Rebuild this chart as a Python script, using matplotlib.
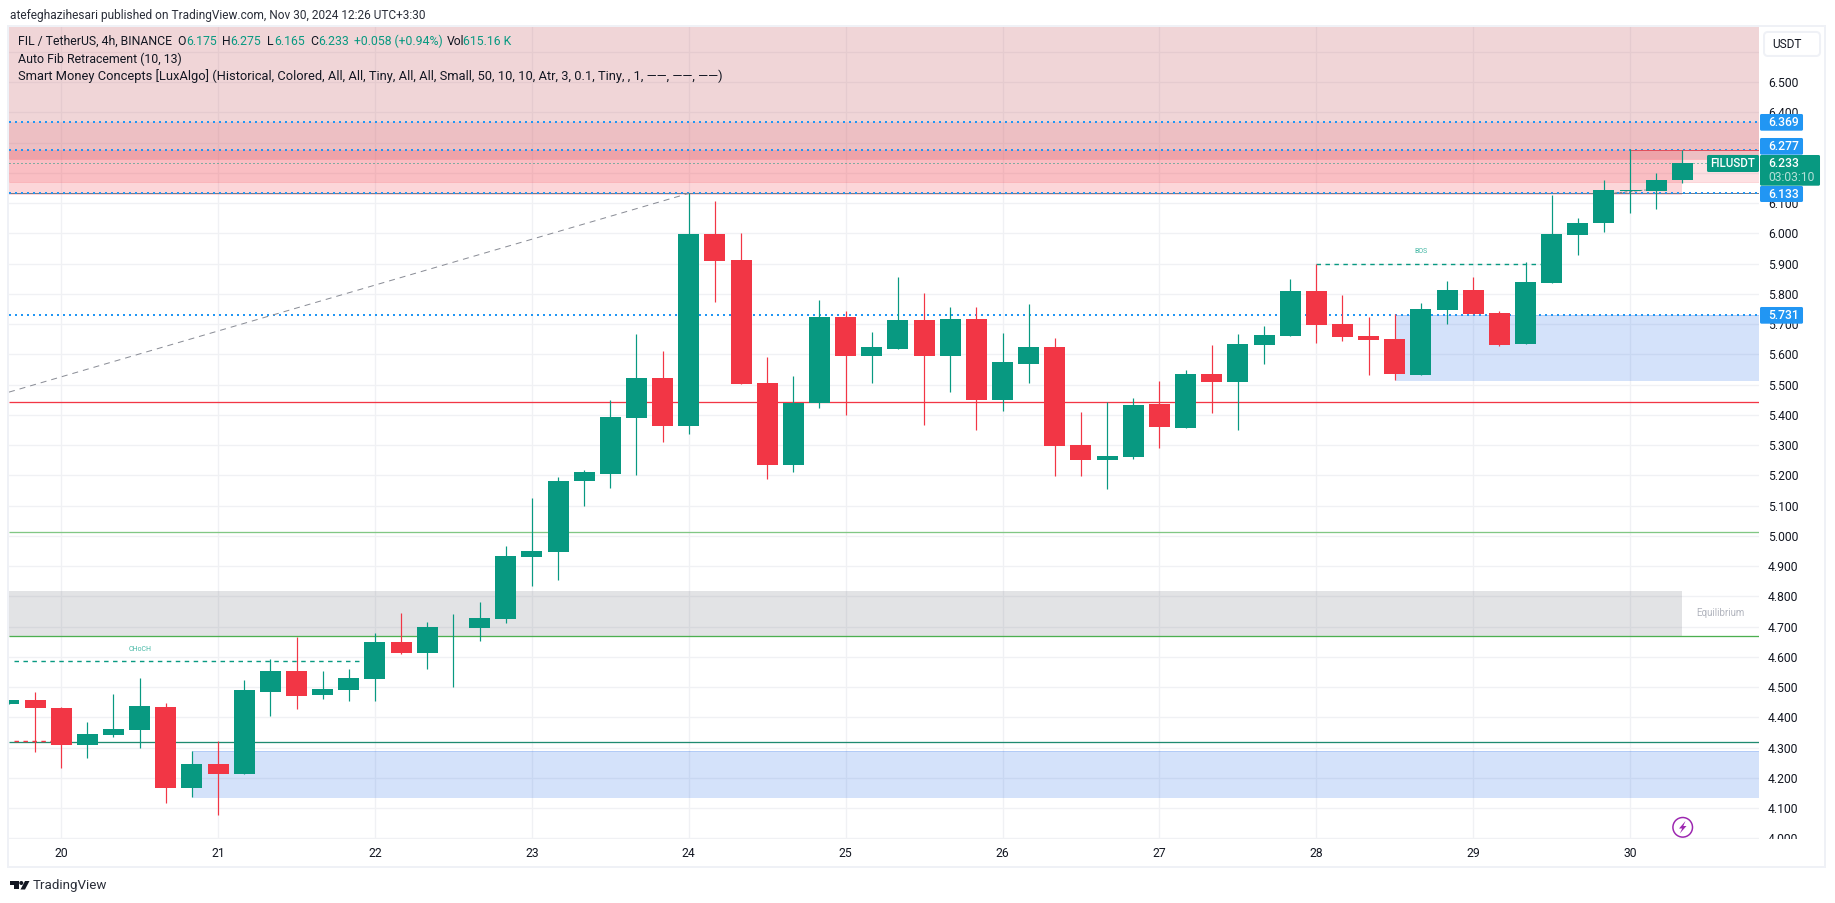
import matplotlib
matplotlib.use('Agg')
import matplotlib.pyplot as plt
from matplotlib.patches import Rectangle, FancyBboxPatch, Circle, Polygon

plt.rcParams['font.family'] = ['Roboto', 'DejaVu Sans']

# Velas de 4h, la primera queda cortada por el borde izquierdo
bar_index = list(range(-2, 63))
opens = [4.444, 4.457, 4.431, 4.308, 4.341, 4.358, 4.434, 4.166, 4.246, 4.213, 4.484, 4.553, 4.474,
         4.490, 4.527, 4.649, 4.613, 4.697, 4.695, 4.725, 4.930, 4.946, 5.181, 5.204, 5.389, 5.522,
         5.363, 5.998, 5.912, 5.505, 5.234, 5.439, 5.723, 5.594, 5.617, 5.713, 5.594, 5.717, 5.449,
         5.568, 5.624, 5.300, 5.251, 5.261, 5.435, 5.356, 5.535, 5.508, 5.630, 5.660, 5.809, 5.700,
         5.660, 5.650, 5.531, 5.746, 5.812, 5.736, 5.633, 5.836, 5.994, 6.034, 6.141, 6.140, 6.175]
highs = [4.458, 4.484, 4.433, 4.384, 4.477, 4.530, 4.447, 4.289, 4.321, 4.523, 4.593, 4.667, 4.553,
         4.560, 4.679, 4.745, 4.715, 4.741, 4.781, 4.966, 5.125, 5.194, 5.218, 5.449, 5.667, 5.611,
         6.132, 6.107, 6.001, 5.591, 5.528, 5.780, 5.743, 5.674, 5.856, 5.803, 5.756, 5.756, 5.670,
         5.766, 5.654, 5.409, 5.442, 5.455, 5.511, 5.548, 5.630, 5.667, 5.693, 5.849, 5.898, 5.796,
         5.723, 5.733, 5.769, 5.842, 5.855, 5.743, 5.905, 6.127, 6.051, 6.176, 6.280, 6.199, 6.275]
lows = [4.444, 4.285, 4.232, 4.265, 4.335, 4.299, 4.117, 4.137, 4.077, 4.213, 4.404, 4.427, 4.461,
        4.454, 4.454, 4.609, 4.560, 4.500, 4.652, 4.712, 4.834, 4.854, 5.098, 5.158, 5.201, 5.310,
        5.337, 5.773, 5.502, 5.188, 5.211, 5.422, 5.399, 5.505, 5.617, 5.366, 5.475, 5.350, 5.413,
        5.505, 5.198, 5.198, 5.155, 5.254, 5.290, 5.356, 5.406, 5.349, 5.568, 5.660, 5.637, 5.644,
        5.531, 5.515, 5.531, 5.700, 5.733, 5.627, 5.633, 5.836, 5.928, 6.004, 6.067, 6.080, 6.165]
closes = [4.457, 4.431, 4.308, 4.345, 4.361, 4.437, 4.166, 4.246, 4.213, 4.490, 4.553, 4.470, 4.494,
          4.530, 4.649, 4.613, 4.698, 4.699, 4.728, 4.933, 4.950, 5.181, 5.211, 5.393, 5.522, 5.363,
          5.998, 5.908, 5.502, 5.234, 5.439, 5.723, 5.594, 5.624, 5.713, 5.594, 5.717, 5.449, 5.575,
          5.624, 5.297, 5.251, 5.264, 5.432, 5.360, 5.535, 5.508, 5.634, 5.664, 5.809, 5.697, 5.657,
          5.647, 5.535, 5.749, 5.812, 5.733, 5.630, 5.839, 5.998, 6.034, 6.143, 6.143, 6.176, 6.233]

# Ejes: 6.2, 6.3 y 6.6 tienen línea de grilla pero su texto queda tapado
price_ticks = [4.0, 4.1, 4.2, 4.3, 4.4, 4.5, 4.6, 4.7, 4.8, 4.9, 5.0, 5.1, 5.2, 5.3,
               5.4, 5.5, 5.6, 5.7, 5.8, 5.9, 6.0, 6.1, 6.2, 6.3, 6.4, 6.5, 6.6]
hidden_ticks = [6.2, 6.3, 6.6]
day_ticks = [0, 6, 12, 18, 24, 30, 36, 42, 48, 54, 60]
day_labels = ['20', '21', '22', '23', '24', '25', '26', '27', '28', '29', '30']

# Niveles horizontales
fib_levels = [5.442, 5.011, 4.668, 4.320]
fib_colors = ['#f23645', '#81c784', '#4caf50', '#1f8a70']
dotted_levels = [6.369, 6.277, 6.133, 5.731]

FIG_W, FIG_H = 1835, 903
PANE_L, PANE_R, PANE_T, PANE_B = 9, 1759, 27, 839
GREEN = '#089981'
RED = '#f23645'
BLUE = '#2196f3'
TEXT = '#131722'


def px(n):
    return n * 0.72


fig = plt.figure(figsize=((FIG_W + 0.01) / 100, (FIG_H + 0.01) / 100), dpi=100)
ax = fig.add_axes([PANE_L / FIG_W, (FIG_H - PANE_B) / FIG_H,
                   (PANE_R - PANE_L) / FIG_W, (PANE_B - PANE_T) / FIG_H])
ax.set_xlim(-1.996, 64.93)
ax.set_ylim(3.9977, 6.682)
for s in ax.spines.values():
    s.set_visible(False)
ax.set_axisbelow(True)
ax.grid(True, color='#f0f1f4', linewidth=px(1.3))
ax.yaxis.tick_right()
ax.set_yticks(price_ticks)
ax.set_yticklabels(['' if p in hidden_ticks else f'{p:.3f}' for p in price_ticks], fontsize=8.7, color=TEXT)
ax.set_xticks(day_ticks)
ax.set_xticklabels(day_labels, fontsize=8.7, color=TEXT)
ax.tick_params(axis='y', length=0, pad=6.5)
ax.tick_params(axis='x', length=0, pad=5.5)

# Zonas de Smart Money Concepts
xmin, xmax = ax.get_xlim()
ymin, ymax = ax.get_ylim()
zone_kw = dict(linewidth=0, zorder=1)
ax.add_patch(Rectangle((xmin, 6.246), xmax - xmin, ymax - 6.246, facecolor='#c3535b', alpha=0.24, **zone_kw))
ax.add_patch(Rectangle((xmin, 6.246), xmax - xmin, 6.369 - 6.246, facecolor='#e0505c', alpha=0.16, **zone_kw))
ax.add_patch(Rectangle((xmin, 6.170), xmax - xmin, 6.246 - 6.170, facecolor=RED, alpha=0.15, **zone_kw))
ax.add_patch(Rectangle((xmin, 6.125), 62 - xmin, 6.277 - 6.125, facecolor=RED, alpha=0.2, **zone_kw))
ax.add_patch(Rectangle((xmin, 4.666), 62 - xmin, 4.818 - 4.666, facecolor='#787b86', alpha=0.21, **zone_kw))
for x0, low, high in [(5, 4.138, 4.289), (51, 5.514, 5.731)]:
    ax.add_patch(Rectangle((x0, low), xmax - x0, high - low, facecolor='#2a6fe8', alpha=0.2, **zone_kw))
    ax.hlines([low, high], x0, xmax, color='#2a6fe8', alpha=0.2, linewidth=px(1), zorder=1)
ax.hlines([6.246, 6.170], xmin, xmax, color=RED, alpha=0.2, linewidth=px(1), zorder=1)
ax.hlines(6.133, xmin, xmax, color='#787b86', linewidth=px(1), zorder=1.5)

# Niveles
ax.hlines(fib_levels, xmin, xmax, colors=fib_colors, linewidth=px(1.3), zorder=2)
ax.hlines(dotted_levels, xmin, xmax, color=BLUE, linewidth=px(2), linestyle=(0, (1, 2)), zorder=2)
ax.hlines(6.233, xmin, xmax, color=GREEN, linewidth=px(1), linestyle=(0, (1, 3)), zorder=2)
ax.hlines(6.277, 60, xmax, color='#e0505c', linewidth=px(1), zorder=2)
ax.plot([xmin, 24], [5.475, 6.132], color='#8a8d96', linewidth=px(1), linestyle=(0, (6, 5)), zorder=2)
ax.plot([59.4, 60.6], [6.133, 6.143], color='#787b86', linewidth=px(1), linestyle=(0, (3, 2)), zorder=2)

# Estructura
dash = (0, (3.2, 3.2))
ax.hlines(4.585, -1.8, 11.5, color=GREEN, linewidth=px(1.4), linestyle=dash, zorder=2)
ax.hlines(5.898, 48, 56.6, color=GREEN, linewidth=px(1.4), linestyle=dash, zorder=2)
ax.hlines(4.322, -1.8, 0, color=RED, linewidth=px(1.4), linestyle=dash, zorder=2)
ax.text(3, 4.625, 'CHoCH', color='#45b8a5', fontsize=5, ha='center', va='center', zorder=2)
ax.text(52, 5.940, 'BOS', color='#45b8a5', fontsize=5, ha='center', va='center', zorder=2)
ax.text(63.45, 4.7435, 'Equilibrium', color='#b2b5be', fontsize=7, ha='center', va='center', zorder=2)

# Velas
colors = [GREEN if c >= o else RED for o, c in zip(opens, closes)]
ax.vlines(bar_index, lows, highs, colors=colors, linewidth=px(1.2), zorder=3)
ax.bar(bar_index, [c - o for o, c in zip(opens, closes)], bottom=opens, width=0.803,
       color=colors, linewidth=0, zorder=4)

# Capa en px para el resto de la interfaz
ui = fig.add_axes([0, 0, 1, 1])
ui.set_xlim(0, FIG_W)
ui.set_ylim(FIG_H, 0)
ui.axis('off')
ui.patch.set_alpha(0)

ui.add_patch(Rectangle((1760, 839), 64, 27, facecolor='white', linewidth=0))
ui.add_patch(Rectangle((8, 26.5), 1817, 840.5, facecolor='none', edgecolor='#eff1f6', linewidth=px(2)))

# Encabezado y leyenda
ui.text(10, 15, 'atefeghazihesari published on TradingView.com, Nov 30, 2024 12:26 UTC+3:30',
        fontsize=8.55, color='#2a2e39', va='center')
legend_y = 41.7
for x, s, c in [(18, 'FIL / TetherUS, 4h, BINANCE', TEXT), (177.5, 'O', TEXT), (186, '6.175', GREEN),
                (222.4, 'H', TEXT), (230.6, '6.275', GREEN), (267, 'L', TEXT), (274, '6.165', GREEN),
                (310, 'C', TEXT), (318, '6.233', GREEN), (354, '+0.058 (+0.94%)', GREEN),
                (446.4, 'Vol', TEXT), (462.8, '615.16 K', GREEN)]:
    ui.text(x, legend_y, s, fontsize=8.8, color=c, va='center')
ui.text(18, 59, 'Auto Fib Retracement (10, 13)', fontsize=8.9, color=TEXT, va='center')
ui.text(18, 76, 'Smart Money Concepts [LuxAlgo] (Historical, Colored, All, All, Tiny, All, All, Small, '
        '50, 10, 10, Atr, 3, 0.1, Tiny, , 1, ——, ——, ——)', fontsize=9.25, color=TEXT, va='center')

# Caja de moneda
ui.add_patch(FancyBboxPatch((1764, 32), 56, 24, boxstyle='round,pad=0,rounding_size=4',
                            facecolor='white', edgecolor='#eff1f6', linewidth=px(2)))
ui.text(1772, 44.7, 'USDT', fontsize=8.6, color=TEXT, va='center')

# Etiquetas de precio
for y0, y1, s in [(114, 130.7, '6.369'), (138, 154.7, '6.277'), (186, 202, '6.133'), (307, 323.7, '5.731')]:
    ui.add_patch(FancyBboxPatch((1760, y0), 43, y1 - y0, boxstyle='round,pad=0,rounding_size=1.5',
                                facecolor=BLUE, linewidth=0))
    ui.text(1768, (y0 + y1) / 2, s, fontsize=8.7, color='white', fontweight='medium', va='center')
ui.add_patch(FancyBboxPatch((1760, 155), 60, 30.7, boxstyle='round,pad=0,rounding_size=1.5',
                            facecolor=GREEN, linewidth=0))
ui.text(1768, 163.8, '6.233', fontsize=8.7, color='white', fontweight='medium', va='center')
ui.text(1768, 177.5, '03:03:10', fontsize=8.7, color='#b5e0d8', va='center')
ui.add_patch(FancyBboxPatch((1707, 155), 52, 17, boxstyle='round,pad=0,rounding_size=1.5',
                            facecolor=GREEN, linewidth=0))
ui.text(1733, 163.8, 'FILUSDT', fontsize=8.4, color='white', fontweight='medium', ha='center', va='center')

# Icono del rayo
ui.add_patch(Circle((1682.7, 827.3), 9.8, facecolor='white', edgecolor='#9c27b0', linewidth=px(1.5)))
ui.add_patch(Polygon([(1685.5, 821), (1679, 828.5), (1682.2, 828.5), (1679.8, 833.5),
                      (1686.5, 826), (1683.3, 826)], facecolor='#9c27b0', linewidth=0))

# Logo inferior
ui.add_patch(Polygon([(10, 881), (18.5, 881), (18.5, 889.5), (14, 889.5), (14, 885), (10, 885)],
                     facecolor=TEXT, linewidth=0))
ui.add_patch(Circle((21.3, 883), 2, facecolor=TEXT, linewidth=0))
ui.add_patch(Polygon([(25, 881), (29.5, 881), (25, 889.5), (20.5, 889.5)], facecolor=TEXT, linewidth=0))
ui.text(33, 885.5, 'TradingView', fontsize=9.6, color='#2a2e39', va='center')

fig.savefig('out.png', dpi=100)
